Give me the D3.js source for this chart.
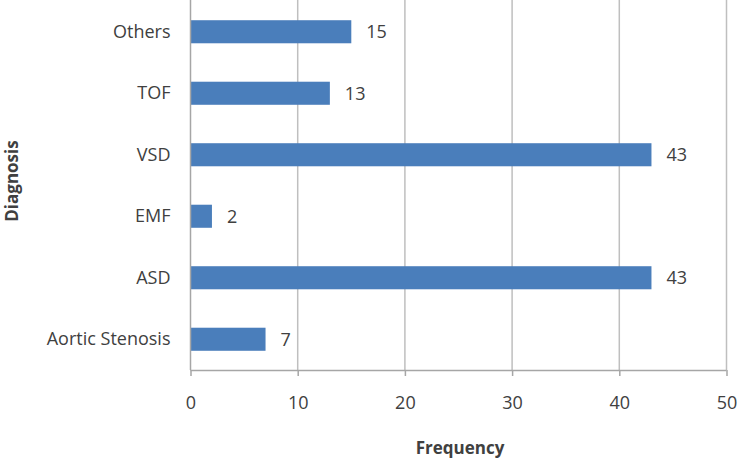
<!DOCTYPE html>
<html><head><meta charset="utf-8">
<script src="https://cdn.jsdelivr.net/npm/d3@7"></script>
<style>body{margin:0;background:#fff}svg{display:block}text{font-family:"Open Sans",sans-serif;fill:#404040}</style>
</head><body><svg id="c" width="739" height="459"></svg>
<script>
const categories = ["Others","TOF","VSD","EMF","ASD","Aortic Stenosis"];
const values = [15,13,43,2,43,7];
const xTicks = [0,10,20,30,40,50];
const xTitle = "Frequency";
const yTitle = "Diagnosis";

const svg = d3.select("#c");
const m = {left:190.5, right:726.5, top:1, bottom:370};
const x = d3.scaleLinear().domain([0,50]).range([m.left,m.right]);
const y = d3.scaleBand().domain(categories).range([m.top,m.bottom]).paddingInner(0.625).paddingOuter(0.3125);
const FS = 18;

// gridlines
svg.append("g").selectAll("line").data(xTicks.slice(1)).join("line")
  .attr("x1",d=>x(d)).attr("x2",d=>x(d)).attr("y1",0).attr("y2",m.bottom)
  .attr("stroke","#bfbfbf").attr("stroke-width",1.5);

// bars
svg.append("g").selectAll("rect").data(values).join("rect")
  .attr("x",x(0)).attr("y",(d,i)=>y(categories[i]))
  .attr("width",d=>x(d)-x(0)).attr("height",y.bandwidth())
  .attr("fill","#4a7ebb");

// value labels
svg.append("g").selectAll("text").data(values).join("text")
  .attr("x",d=>x(d)+15).attr("y",(d,i)=>y(categories[i])+y.bandwidth()/2)
  .attr("dy","0.35em").style("font-size",FS+"px").text(d=>d);

// x axis
const xa = svg.append("g").attr("transform",`translate(0,${m.bottom})`)
  .call(d3.axisBottom(x).tickValues(xTicks).tickSize(6).tickPadding(20));
xa.select(".domain").attr("stroke","#a6a6a6").attr("stroke-width",1.5).attr("d",`M${m.left},0.5H${m.right}`);
xa.selectAll(".tick line").attr("stroke","#a6a6a6").attr("stroke-width",1.5);
xa.selectAll(".tick text").style("font-size",FS+"px").attr("fill","#404040").style("font-family","'Open Sans',sans-serif");

// y axis
const ya = svg.append("g").attr("transform",`translate(${m.left},0)`)
  .call(d3.axisLeft(y).tickSize(0).tickPadding(20));
ya.select(".domain").attr("stroke","#a6a6a6").attr("stroke-width",1.5).attr("d",`M0,0V${m.bottom}`);
ya.selectAll(".tick text").style("font-size",FS+"px").attr("fill","#404040").style("font-family","'Open Sans',sans-serif");

// titles
svg.append("text").attr("x",460).attr("y",448).attr("dy","0.35em").attr("text-anchor","middle")
  .style("font-size","17px").attr("font-weight","bold").text(xTitle);
svg.append("text").attr("transform","translate(12,181) rotate(-90)").attr("dy","0.35em").attr("text-anchor","middle")
  .style("font-size","17px").attr("font-weight","bold").text(yTitle);
</script></body></html>
